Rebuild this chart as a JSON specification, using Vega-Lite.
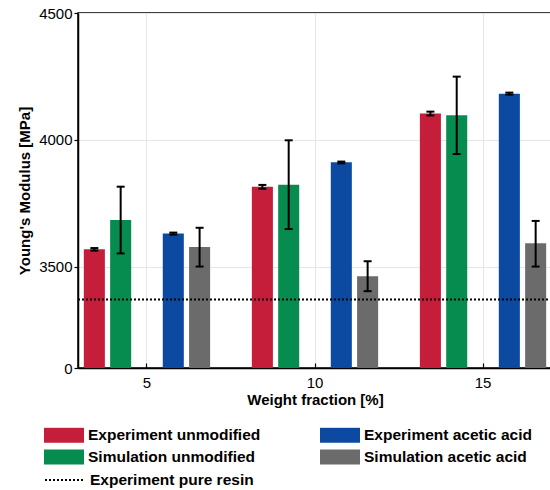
{
  "$schema": "https://vega.github.io/schema/vega-lite/v6.json",
  "width": 474,
  "height": 355,
  "autosize": {"type": "none"},
  "padding": {"left": 78, "top": 13, "right": 0, "bottom": 122},
  "background": "white",
  "datasets": {
    "bars": [
      {"weight": "5", "series": "Experiment unmodified", "value": 3568, "lo": 3563, "hi": 3573},
      {"weight": "5", "series": "Simulation unmodified", "value": 3684, "lo": 3552, "hi": 3815},
      {"weight": "5", "series": "Experiment acetic acid", "value": 3630, "lo": 3626, "hi": 3634},
      {"weight": "5", "series": "Simulation acetic acid", "value": 3577, "lo": 3500, "hi": 3653},
      {"weight": "10", "series": "Experiment unmodified", "value": 3815, "lo": 3807, "hi": 3822},
      {"weight": "10", "series": "Simulation unmodified", "value": 3823, "lo": 3648, "hi": 3998},
      {"weight": "10", "series": "Experiment acetic acid", "value": 3911, "lo": 3907, "hi": 3914},
      {"weight": "10", "series": "Simulation acetic acid", "value": 3462, "lo": 3403, "hi": 3521},
      {"weight": "15", "series": "Experiment unmodified", "value": 4104, "lo": 4096, "hi": 4111},
      {"weight": "15", "series": "Simulation unmodified", "value": 4097, "lo": 3944, "hi": 4249},
      {"weight": "15", "series": "Experiment acetic acid", "value": 4182, "lo": 4178, "hi": 4186},
      {"weight": "15", "series": "Simulation acetic acid", "value": 3592, "lo": 3500, "hi": 3680}
    ],
    "resin": [{"label": "Experiment pure resin", "value": 3370}]
  },
  "layer": [
    {
      "data": {"name": "bars"},
      "mark": {"type": "bar", "clip": true},
      "encoding": {
        "x": {
          "field": "weight", "type": "nominal", "sort": ["5", "10", "15"],
          "scale": {"paddingInner": 0.217, "paddingOuter": 0.019},
          "axis": {"title": "Weight fraction [%]", "labelAngle": 0, "bandPosition": 0.5, "tickSize": -5, "labelPadding": 12, "titlePadding": 2}
        },
        "xOffset": {
          "field": "series", "type": "nominal",
          "scale": {"domain": ["Experiment unmodified", "Simulation unmodified", "_gap", "Experiment acetic acid", "Simulation acetic acid"], "paddingInner": 0.2, "paddingOuter": 0.1}
        },
        "y": {
          "field": "value", "type": "quantitative",
          "scale": {"domain": [3100, 4500], "zero": false, "nice": false},
          "axis": {"title": "Young's Modulus [MPa]", "values": [3100, 3500, 4000, 4500], "format": "d", "labelExpr": "datum.value == 3100 ? '0' : datum.label", "tickSize": 4, "labelPadding": 2, "titlePadding": 6}
        },
        "color": {
          "field": "series", "type": "nominal",
          "scale": {"domain": ["Experiment unmodified", "Simulation unmodified", "Experiment acetic acid", "Simulation acetic acid"], "range": ["#c41e3a", "#078c4f", "#0b4aa0", "#6b6b6b"]},
          "legend": {
            "title": null, "orient": "none", "legendX": -34, "legendY": 414, "columns": 2, "columnPadding": 59, "rowPadding": 5, "clipHeight": 16,
            "symbolType": "M-1,-0.375H1V0.375H-1Z", "symbolSize": 1600, "symbolStrokeWidth": 0, "labelOffset": 4, "padding": 0
          }
        }
      }
    },
    {
      "data": {"name": "resin"},
      "mark": {"type": "rule", "strokeWidth": 2, "color": "black"},
      "encoding": {
        "y": {"field": "value", "type": "quantitative"},
        "strokeDash": {
          "field": "label", "type": "nominal",
          "scale": {"range": [[2, 2]]},
          "legend": {"title": null, "orient": "none", "legendX": -34, "legendY": 459, "clipHeight": 16, "symbolType": "stroke", "symbolSize": 1600, "symbolStrokeWidth": 2, "symbolStrokeColor": "black", "labelOffset": 4, "padding": 0}
        }
      }
    },
    {
      "data": {"name": "bars"},
      "mark": {"type": "rule", "strokeWidth": 2, "color": "black"},
      "encoding": {
        "x": {"field": "weight", "type": "nominal", "sort": ["5", "10", "15"]},
        "xOffset": {"field": "series", "type": "nominal"},
        "y": {"field": "lo", "type": "quantitative"},
        "y2": {"field": "hi"}
      }
    },
    {
      "data": {"name": "bars"},
      "mark": {"type": "tick", "size": 8, "thickness": 2, "color": "black", "opacity": 1},
      "encoding": {
        "x": {"field": "weight", "type": "nominal", "sort": ["5", "10", "15"]},
        "xOffset": {"field": "series", "type": "nominal"},
        "y": {"field": "lo", "type": "quantitative"}
      }
    },
    {
      "data": {"name": "bars"},
      "mark": {"type": "tick", "size": 8, "thickness": 2, "color": "black", "opacity": 1},
      "encoding": {
        "x": {"field": "weight", "type": "nominal", "sort": ["5", "10", "15"]},
        "xOffset": {"field": "series", "type": "nominal"},
        "y": {"field": "hi", "type": "quantitative"}
      }
    }
  ],
  "config": {
    "font": "Liberation Sans",
    "view": {"stroke": "black", "strokeWidth": 1.5},
    "axis": {
      "domainColor": "black", "domainWidth": 1.5, "tickColor": "black", "tickWidth": 1.2,
      "labelFont": "Liberation Sans", "labelFontSize": 15, "labelColor": "black",
      "titleFont": "Liberation Sans", "titleFontSize": 15, "titleFontWeight": "bold", "titleColor": "black",
      "grid": true, "gridColor": "#e6e6e6", "gridWidth": 1
    },
    "legend": {"labelFont": "Liberation Sans", "labelFontSize": 15.5, "labelFontWeight": "bold", "labelColor": "black", "labelLimit": 300}
  }
}
